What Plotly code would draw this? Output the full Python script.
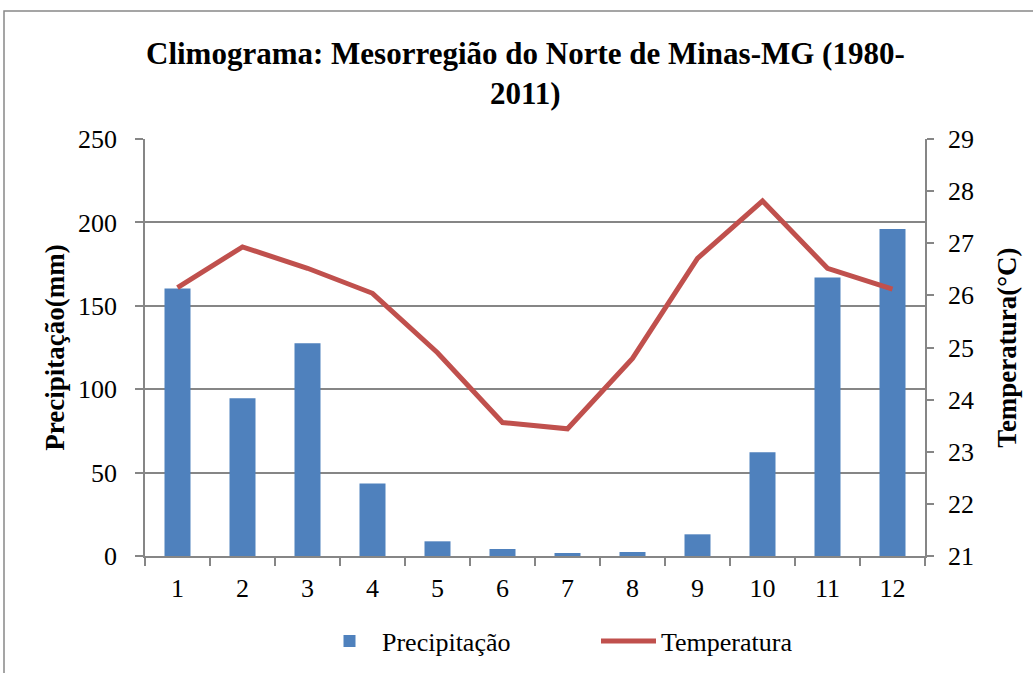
import plotly.graph_objects as go

months = ["1", "2", "3", "4", "5", "6", "7", "8", "9", "10", "11", "12"]
precipitacao = [160.3, 94.6, 127.6, 43.5, 8.8, 4.2, 1.8, 2.4, 13.0, 62.2, 167.0, 196.0]
temperatura = [26.15, 26.93, 26.52, 26.04, 24.9, 23.56, 23.44, 24.79, 26.71, 27.81, 26.52, 26.12]

title_text = "Climograma: Mesorregião do Norte de Minas-MG (1980-<br>2011)"
serif = "Liberation Serif, Times New Roman, serif"
grid = "#868686"

fig = go.Figure()
fig.add_trace(go.Bar(
    x=months, y=precipitacao, name="Precipitação",
    marker=dict(color="#4F81BD", line=dict(width=0)),
    yaxis="y",
))
fig.add_trace(go.Scatter(
    x=months, y=temperatura, name="Temperatura", mode="lines",
    line=dict(color="#C0504D", width=5),
    yaxis="y2",
))

fig.update_layout(
    width=1033, height=673,
    margin=dict(l=145, r=108, t=139, b=117, autoexpand=False),
    paper_bgcolor="white", plot_bgcolor="white",
    font=dict(family=serif, color="black", size=26),
    bargap=0.6,
    showlegend=True,
    legend=dict(orientation="h", x=(317 - 145) / 780, xanchor="left", y=-0.204, yanchor="middle",
                font=dict(family=serif, size=26), bgcolor="rgba(0,0,0,0)",
                itemwidth=55, entrywidth=209, entrywidthmode="pixels"),
    xaxis=dict(type="category", showline=True, linecolor=grid, linewidth=1.5,
               ticks="outside", tickson="boundaries", ticklen=8, tickcolor=grid,
               tickwidth=1.5, showgrid=False, tickfont=dict(size=26),
               ticklabelstandoff=8, automargin=False),
    yaxis=dict(range=[0, 250], dtick=50, showline=True, linecolor=grid, linewidth=1.5,
               ticks="outside", ticklen=8, tickcolor=grid, tickwidth=1.5,
               showgrid=True, gridcolor=grid, gridwidth=1.5, zeroline=False,
               tickfont=dict(size=26), ticklabelstandoff=13, automargin=False,
               title=dict(text="<b>Precipitação(mm)</b>", font=dict(size=27), standoff=6)),
    yaxis2=dict(range=[21, 29], dtick=1, overlaying="y", side="right",
                showline=True, linecolor=grid, linewidth=1.5,
                ticks="outside", ticklen=7, tickcolor=grid, tickwidth=1.5,
                showgrid=False, zeroline=False, tickfont=dict(size=26),
                ticklabelstandoff=9, automargin=False,
                title=dict(text="<b>Temperatura(°C)</b>", font=dict(size=27), standoff=24)),
    annotations=[
        dict(text="<b>" + title_text + "</b>", xref="paper", yref="paper",
             x=0.488, y=(556 - 73.5) / 417, xanchor="center", yanchor="middle",
             showarrow=False, font=dict(family=serif, size=31, color="black")),
    ],
    shapes=[dict(type="rect", xref="paper", yref="paper",
                 x0=(4 - 145) / 780, x1=1.3, y0=-0.4, y1=(556 - 11) / 417,
                 line=dict(color="#888888", width=1.5), layer="below")],
)

fig.write_html("out.html", config={"displayModeBar": False},
               post_script="document.body.style.margin='0';")
